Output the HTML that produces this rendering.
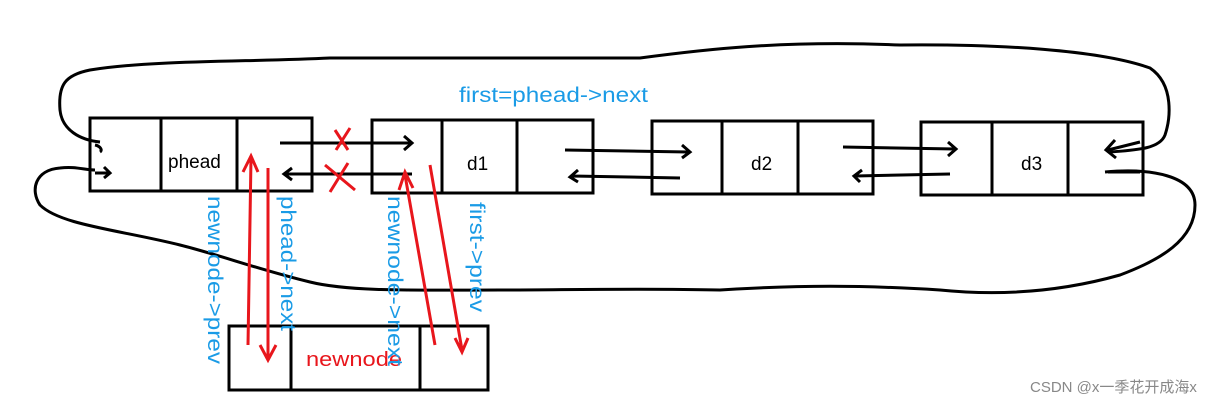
<!DOCTYPE html>
<html><head><meta charset="utf-8"><style>
body{margin:0;background:#fff;width:1222px;height:407px;overflow:hidden}
svg{display:block}
text{font-family:"Liberation Sans","DejaVu Sans",sans-serif}
</style></head><body>
<svg width="1222" height="407" viewBox="0 0 1222 407" xmlns="http://www.w3.org/2000/svg">
<g fill="none" stroke="#000" stroke-width="3">
<path d="M100,142 C80,140 62,130 60,110 C58,85 65,75 90,70 C150,60 250,62 330,58 C420,58 550,58 640,58 C700,50 780,40 900,45 C1000,44 1100,50 1150,68 C1175,85 1170,120 1165,135 C1160,148 1140,150 1110,152"/>
<path d="M1105,172 C1150,168 1195,175 1195,205 C1195,240 1160,260 1120,275 C1060,292 1000,296 940,290 C860,285 800,285 720,290 C640,288 560,290 500,290 C420,290 350,292 310,282 C260,270 220,255 180,245 C120,230 60,225 40,205 C30,190 35,170 60,168 C75,166 85,170 95,170"/>
<rect x="90" y="118" width="222" height="73"/>
<line x1="161" y1="118" x2="161" y2="191"/><line x1="237" y1="118" x2="237" y2="191"/>
<rect x="372" y="120" width="221" height="73"/>
<line x1="442" y1="120" x2="442" y2="193"/><line x1="517" y1="120" x2="517" y2="193"/>
<rect x="652" y="121" width="221" height="73"/>
<line x1="722" y1="121" x2="722" y2="194"/><line x1="798" y1="121" x2="798" y2="194"/>
<rect x="921" y="122" width="222" height="73"/>
<line x1="992" y1="122" x2="992" y2="195"/><line x1="1068" y1="122" x2="1068" y2="195"/>
<rect x="229" y="326" width="259" height="64"/>
<line x1="291" y1="326" x2="291" y2="390"/><line x1="420" y1="326" x2="420" y2="390"/>
<path d="M95,145 C100,146 103,150 100,152 M95,173 L108,173 M104,167 L110,173 L104,178"/>
<path d="M280,143 L412,143 M404,136 L412,143 L404,150"/>
<path d="M412,174 L285,174 M292,168 L284,174 L292,180"/>
<path d="M565,150 L688,152 M682,145 L690,152 L682,158"/>
<path d="M680,178 L572,176 M578,170 L570,177 L578,182"/>
<path d="M843,147 L955,149 M948,142 L956,149 L948,156"/>
<path d="M950,174 L855,176 M862,170 L854,176 L860,182"/>
<path d="M1140,142 L1108,150 M1115,140 L1106,150 L1116,158"/>
<path d="M1140,172 L1108,172"/>
</g>
<g fill="none" stroke="#e8161c" stroke-width="3">
<path d="M335,130 L348,150 M350,128 L336,150"/>
<path d="M325,165 L355,190 M348,163 L330,192"/>
<path d="M248,345 L251,158 M243,172 L251,156 L258,172"/>
<path d="M268,168 L268,358 M260,345 L268,360 L276,345"/>
<path d="M435,345 L405,175 M399,190 L405,172 L413,188"/>
<path d="M430,165 L462,350 M455,338 L462,352 L468,338"/>
</g>
<text x="459" y="102" font-size="21" fill="#1a9be6" textLength="189" lengthAdjust="spacingAndGlyphs">first=phead-&gt;next</text>
<text x="168" y="168" font-size="19" fill="#000">phead</text>
<text x="467" y="170" font-size="19" fill="#000">d1</text>
<text x="751" y="170" font-size="19" fill="#000">d2</text>
<text x="1021" y="170" font-size="19" fill="#000">d3</text>
<text x="306" y="366" font-size="20" fill="#e8161c" textLength="96" lengthAdjust="spacingAndGlyphs">newnode</text>
<g font-size="21" fill="#1a9be6">
<text transform="translate(208,196) rotate(90)" textLength="168" lengthAdjust="spacingAndGlyphs">newnode-&gt;prev</text>
<text transform="translate(281,196) rotate(90)" textLength="135" lengthAdjust="spacingAndGlyphs">phead-&gt;next</text>
<text transform="translate(388,196) rotate(90)" textLength="170" lengthAdjust="spacingAndGlyphs">newnode-&gt;next</text>
<text transform="translate(470,202) rotate(90)" textLength="110" lengthAdjust="spacingAndGlyphs">first-&gt;prev</text>
</g>
<text x="1030" y="392" font-size="15" fill="#888" font-family="Liberation Sans,'Noto Sans CJK SC',sans-serif">CSDN @x一季花开成海x</text>
</svg>
</body></html>
